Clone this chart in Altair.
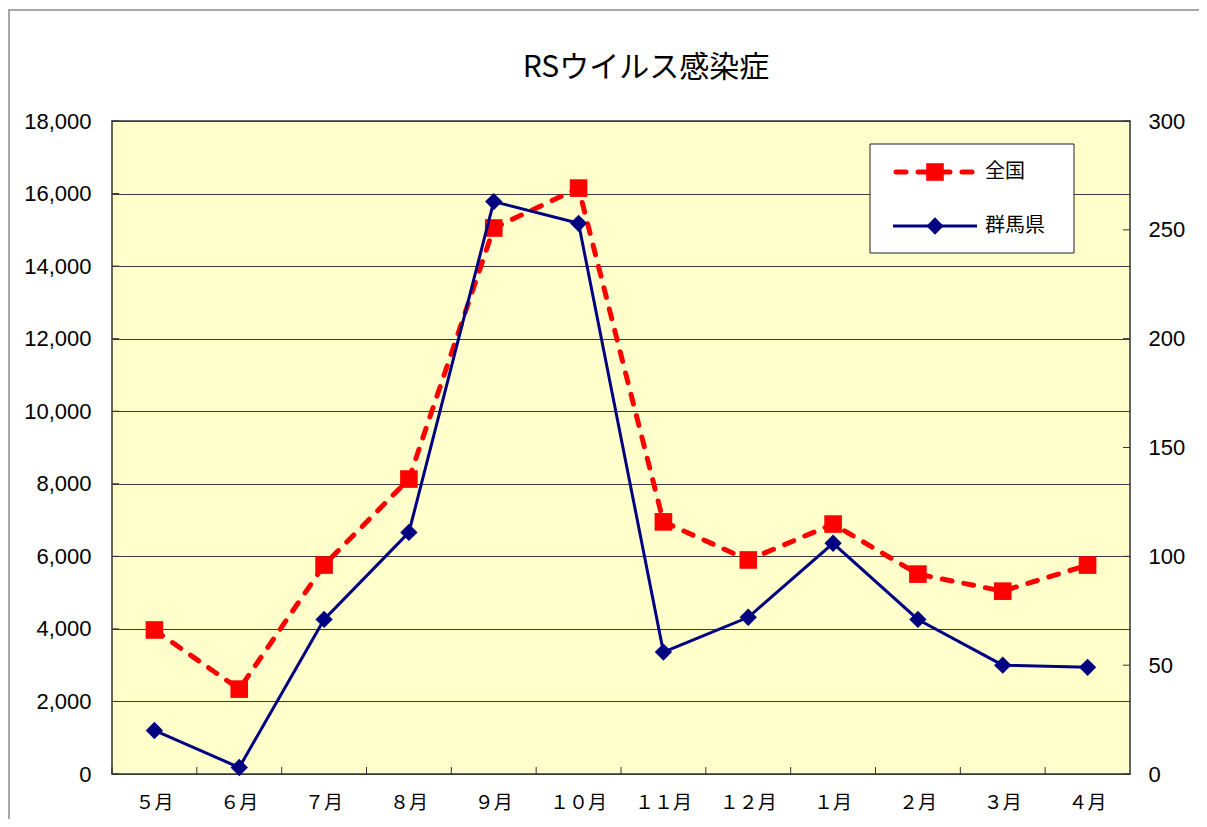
import altair as alt
import pandas as pd

# ---- data ----
months = ["５月", "６月", "７月", "８月", "９月", "１０月", "１１月", "１２月", "１月", "２月", "３月", "４月"]
zenkoku = [3970, 2340, 5760, 8130, 15050, 16150, 6950, 5900, 6890, 5510, 5040, 5760]
gunma = [20, 3, 71, 111, 263, 253, 56, 72, 106, 71, 50, 49]
left_ticks = list(range(0, 18001, 2000))
right_ticks = list(range(0, 301, 50))
title_text = "RSウイルス感染症"
legend_labels = ["全国", "群馬県"]

df = pd.DataFrame({"month": months, "zenkoku": zenkoku, "gunma": gunma})
one = alt.Data(values=[{"k": 0}])

W, H = 1018, 653
RED = "#FF0000"
NAVY = "#000080"
JP = "Noto Sans CJK JP"
NUM = "Liberation Sans"

x_axis = alt.Axis(title=None, labelAngle=0, ticks=False, domain=False, grid=False,
                  labelFont=JP, labelFontSize=19, labelColor="black", labelPadding=19)
x_enc = alt.X("month:N", sort=months,
              scale=alt.Scale(type="band", paddingInner=0, paddingOuter=0), axis=x_axis)

left_scale = alt.Scale(domain=[0, 18000], nice=False, zero=True)
right_scale = alt.Scale(domain=[0, 300], nice=False, zero=True)

left_axis = alt.Axis(title=None, orient="left", format=",d", values=left_ticks,
                     grid=True, gridColor="#3a3a3a", gridWidth=1, gridOpacity=1,
                     ticks=False, tickSize=0, domain=False,
                     labelFont=NUM, labelFontSize=22, labelColor="black", labelPadding=21)
right_axis = alt.Axis(title=None, orient="right", values=right_ticks, grid=False,
                      ticks=False, tickSize=0, domain=False,
                      labelFont=NUM, labelFontSize=22, labelColor="black", labelPadding=18)

base = alt.Chart(df)

red_line = base.mark_line(color=RED, strokeWidth=5, strokeDash=[10, 12], strokeCap="round").encode(
    x=x_enc, y=alt.Y("zenkoku:Q", scale=left_scale, axis=left_axis))
red_pts = base.mark_point(shape="square", filled=True, size=310, color=RED, opacity=1).encode(
    x=x_enc, y=alt.Y("zenkoku:Q", scale=left_scale, axis=None))
navy_line = base.mark_line(color=NAVY, strokeWidth=3).encode(
    x=x_enc, y=alt.Y("gunma:Q", scale=right_scale, axis=right_axis))
navy_pts = base.mark_point(shape="diamond", filled=True, size=300, color=NAVY, opacity=1).encode(
    x=x_enc, y=alt.Y("gunma:Q", scale=right_scale, axis=None))

# small inside ticks
x_ticks = base.mark_rule(color="#333333", strokeWidth=1).encode(
    x=alt.X("month:N", sort=months, bandPosition=0,
            scale=alt.Scale(type="band", paddingInner=0, paddingOuter=0), axis=x_axis),
    y=alt.value(H - 7), y2=alt.value(H))
lt = alt.Chart(pd.DataFrame({"v": left_ticks})).mark_rule(color="#333333").encode(
    y=alt.Y("v:Q", scale=left_scale, axis=None), x=alt.value(0), x2=alt.value(7))
rt = alt.Chart(pd.DataFrame({"v": right_ticks})).mark_rule(color="#333333").encode(
    y=alt.Y("v:Q", scale=right_scale, axis=None), x=alt.value(W - 7), x2=alt.value(W))

# title
title = alt.Chart(one).mark_text(text=title_text, font=JP, fontSize=30, color="black",
                                 align="center", baseline="middle").encode(
    x=alt.value(534), y=alt.value(-53))

# manual legend
leg_box = alt.Chart(one).mark_rect(fill="white", stroke="#222222", strokeWidth=1).encode(
    x=alt.value(758), x2=alt.value(962), y=alt.value(23), y2=alt.value(132))
leg_red = alt.Chart(one).mark_rule(color=RED, strokeWidth=5, strokeDash=[10, 12], strokeCap="round").encode(
    x=alt.value(784), x2=alt.value(862), y=alt.value(51))
leg_red_pt = alt.Chart(one).mark_point(shape="square", filled=True, size=310, color=RED, opacity=1).encode(
    x=alt.value(823), y=alt.value(51))
leg_red_tx = alt.Chart(one).mark_text(text=legend_labels[0], font=JP, fontSize=20, color="black",
                                      align="left", baseline="middle").encode(
    x=alt.value(873), y=alt.value(51))
leg_navy = alt.Chart(one).mark_rule(color=NAVY, strokeWidth=3).encode(
    x=alt.value(781), x2=alt.value(865), y=alt.value(105))
leg_navy_pt = alt.Chart(one).mark_point(shape="diamond", filled=True, size=300, color=NAVY, opacity=1).encode(
    x=alt.value(823), y=alt.value(105))
leg_navy_tx = alt.Chart(one).mark_text(text=legend_labels[1], font=JP, fontSize=20, color="black",
                                       align="left", baseline="middle").encode(
    x=alt.value(873), y=alt.value(105))

# outer chart-area border
border = alt.Chart(one).mark_rect(fillOpacity=0, stroke="#8a8a8a", strokeWidth=1.5).encode(
    x=alt.value(-103), x2=alt.value(1200), y=alt.value(-111), y2=alt.value(760))

chart = alt.layer(
    red_line, red_pts, navy_line, navy_pts, x_ticks, lt, rt,
    leg_box, leg_red, leg_red_pt, leg_red_tx, leg_navy, leg_navy_pt, leg_navy_tx,
    title, border,
).resolve_scale(y="independent").properties(
    width=W, height=H,
    autosize=alt.AutoSizeParams(type="none"),
    padding={"left": 104, "top": 113, "right": 69, "bottom": 45},
    background="white",
).configure_view(fill="#FFFFCC", stroke="#333333", strokeWidth=1.5)

chart.save("out.html", embed_options={"renderer": "svg", "actions": False})
